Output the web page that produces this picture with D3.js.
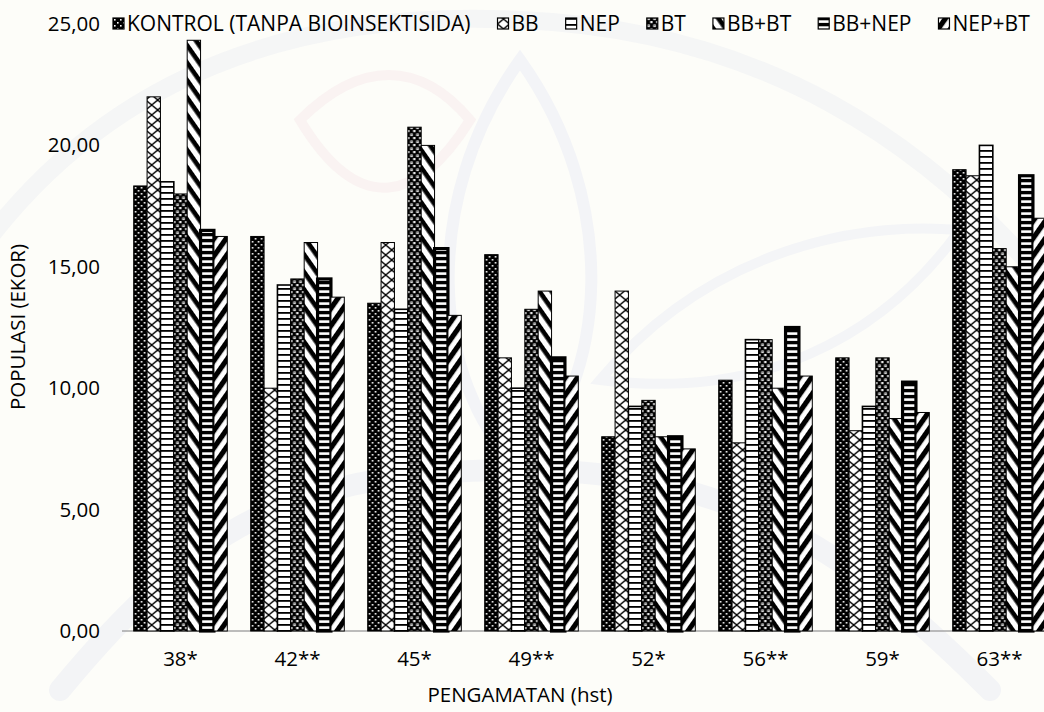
<!DOCTYPE html>
<html>
<head>
<meta charset="utf-8">
<script src="https://cdn.jsdelivr.net/npm/d3@7/dist/d3.min.js"></script>
<style>
  html, body { margin: 0; padding: 0; background: #fdfdf9; }
  svg { display: block; }
  text { font-family: "Open Sans", "Noto Sans", sans-serif; fill: #000; }
</style>
</head>
<body>
<svg id="chart" width="1044" height="712"></svg>
<script>
// Observation days (hari setelah tanam)
const categories = ["38*", "42**", "45*", "49**", "52*", "56**", "59*", "63**"];

// Treatments, in legend order
const seriesNames = ["KONTROL (TANPA BIOINSEKTISIDA)", "BB", "NEP", "BT", "BB+BT", "BB+NEP", "NEP+BT"];

// Pest population (ekor) per treatment, one value per observation day
const kontrol = [18.33, 16.25, 13.5, 15.5, 8.0, 10.33, 11.25, 19.0];
const bb      = [22.0, 10.0, 16.0, 11.25, 14.0, 7.75, 8.25, 18.75];
const nep     = [18.5, 14.25, 13.25, 10.0, 9.25, 12.0, 9.25, 20.0];
const bt      = [18.0, 14.5, 20.75, 13.25, 9.5, 12.0, 11.25, 15.75];
const bbBt    = [24.33, 16.0, 20.0, 14.0, 8.0, 10.0, 8.75, 15.0];
const bbNep   = [16.5, 14.5, 15.75, 11.25, 8.0, 12.5, 10.25, 18.75];
const nepBt   = [16.25, 13.75, 13.0, 10.5, 7.5, 10.5, 9.0, 17.0];

const seriesValues = [kontrol, bb, nep, bt, bbBt, bbNep, nepBt];

// Y axis ticks
const yTicks = [0, 5, 10, 15, 20, 25];

const svg = d3.select("#chart");
const W = 1044, H = 712;

// ---- very faint background emblem ----
const bg = svg.append("g").attr("fill", "none").attr("stroke-linecap", "round");
bg.append("path").attr("d", "M60,690 C200,520 300,470 520,470 C740,470 860,560 990,690")
  .attr("stroke", "#f3f4f6").attr("stroke-width", 22);
bg.append("path").attr("d", "M-20,250 C120,60 320,10 520,20 C760,30 930,140 1060,300")
  .attr("stroke", "#f5f6f6").attr("stroke-width", 18);
bg.append("path").attr("d", "M520,470 C430,380 420,200 520,60 C620,200 610,380 520,470 Z")
  .attr("stroke", "#f3f4f7").attr("stroke-width", 12);
bg.append("path").attr("d", "M300,120 C360,60 420,60 470,120 C420,200 360,220 300,120 Z")
  .attr("stroke", "#faf3f2").attr("stroke-width", 10);
bg.append("path").attr("d", "M600,380 C700,260 840,220 960,230 C880,340 760,400 600,380 Z")
  .attr("stroke", "#f4f5f7").attr("stroke-width", 10);

// ---- fill patterns for each treatment ----
const defs = svg.append("defs");

function pat(id, w, h, transform) {
  const p = defs.append("pattern").attr("id", id)
    .attr("patternUnits", "userSpaceOnUse").attr("width", w).attr("height", h);
  if (transform) p.attr("patternTransform", transform);
  return p;
}

// KONTROL: black with small white dots
{
  const p = pat("p0", 6, 6);
  p.append("rect").attr("width", 6).attr("height", 6).attr("fill", "#000");
  p.append("rect").attr("x", 1).attr("y", 1).attr("width", 1.6).attr("height", 1.6).attr("fill", "#fff");
  p.append("rect").attr("x", 4).attr("y", 4).attr("width", 1.6).attr("height", 1.6).attr("fill", "#fff");
}
// BB: white with zigzag lattice
{
  const p = pat("p1", 12, 10);
  p.append("rect").attr("width", 12).attr("height", 10).attr("fill", "#fff");
  p.append("path").attr("d", "M0,0 L6,5 L0,10 M12,0 L6,5 L12,10")
    .attr("stroke", "#000").attr("stroke-width", 1.4).attr("fill", "none");
}
// NEP: white with horizontal lines
{
  const p = pat("p2", 6, 6);
  p.append("rect").attr("width", 6).attr("height", 6).attr("fill", "#fff");
  p.append("rect").attr("y", 0).attr("width", 6).attr("height", 1.8).attr("fill", "#000");
}
// BT: black with small white open squares
{
  const p = pat("p3", 6, 7);
  p.append("rect").attr("width", 6).attr("height", 7).attr("fill", "#000");
  p.append("rect").attr("x", 0.5).attr("y", 0.5).attr("width", 2.6).attr("height", 2.6).attr("fill", "#fff");
  p.append("rect").attr("x", 1.3).attr("y", 1.3).attr("width", 1).attr("height", 1).attr("fill", "#000");
  p.append("rect").attr("x", 3.5).attr("y", 4).attr("width", 2.2).attr("height", 2.2).attr("fill", "#fff");
}
// BB+BT: wide descending diagonal stripes
{
  const p = pat("p4", 10, 10, "rotate(55)");
  p.append("rect").attr("width", 10).attr("height", 10).attr("fill", "#fff");
  p.append("rect").attr("width", 10).attr("height", 4.6).attr("fill", "#000");
}
// BB+NEP: black with white horizontal bars
{
  const p = pat("p5", 6, 6);
  p.append("rect").attr("width", 6).attr("height", 6).attr("fill", "#000");
  p.append("rect").attr("y", 2.3).attr("width", 6).attr("height", 2.6).attr("fill", "#fff");
}
// NEP+BT: wide ascending diagonal stripes
{
  const p = pat("p6", 10, 10, "rotate(-55)");
  p.append("rect").attr("width", 10).attr("height", 10).attr("fill", "#fff");
  p.append("rect").attr("width", 10).attr("height", 5.2).attr("fill", "#000");
}

const fills = seriesNames.map((d, i) => `url(#p${i})`);
const strokeW = [1, 1, 1.6, 1, 1, 3.2, 1];

// ---- scales ----
const x0 = d3.scaleBand().domain(categories).range([122, 1058])
  .paddingInner(0.2).paddingOuter(0.1);
const x1 = d3.scaleBand().domain(d3.range(seriesNames.length)).range([0, x0.bandwidth()]);
const y = d3.scaleLinear().domain([0, 25]).range([631, 24]);

// ---- baseline ----
svg.append("line").attr("x1", 122).attr("x2", W).attr("y1", y(0)).attr("y2", y(0))
  .attr("stroke", "#a6a6a6").attr("stroke-width", 1.5);

// ---- bars ----
const groups = svg.append("g").selectAll("g").data(categories).join("g")
  .attr("transform", d => `translate(${x0(d)},0)`);

groups.selectAll("rect")
  .data((c, ci) => seriesValues.map((vals, si) => ({ si, v: vals[ci] })))
  .join("rect")
  .attr("x", d => x1(d.si))
  .attr("y", d => y(d.v))
  .attr("width", x1.bandwidth())
  .attr("height", d => y(0) - y(d.v))
  .attr("fill", d => fills[d.si])
  .attr("stroke", "#000")
  .attr("stroke-width", d => strokeW[d.si]);

// ---- y axis (labels only) ----
const yAxis = d3.axisLeft(y).tickValues(yTicks)
  .tickFormat(d => d3.format(".2f")(d).replace(".", ","))
  .tickSize(0).tickPadding(0);
const ya = svg.append("g").attr("transform", "translate(100,0)").call(yAxis);
ya.select(".domain").remove();
ya.selectAll("text").attr("font-size", 20.5).attr("font-family", "'Open Sans', sans-serif").attr("fill", "#000");

// ---- x axis (labels only) ----
const xAxis = d3.axisBottom(x0).tickSize(0).tickPadding(0);
const xa = svg.append("g").attr("transform", `translate(0,${y(0) + 20})`).call(xAxis);
xa.select(".domain").remove();
xa.selectAll("text").attr("font-size", 20.5).attr("font-family", "'Open Sans', sans-serif").attr("fill", "#000");

// ---- axis titles ----
svg.append("text").attr("x", 520).attr("y", 702).attr("text-anchor", "middle")
  .attr("font-size", 20.5).text("PENGAMATAN (hst)");
svg.append("text").attr("transform", "translate(25,327) rotate(-90)")
  .attr("text-anchor", "middle").attr("font-size", 20.5).text("POPULASI (EKOR)");

// ---- legend ----
const legend = svg.append("g").attr("transform", "translate(113,24)");
let lx = 0;
seriesNames.forEach((name, i) => {
  const g = legend.append("g").attr("transform", `translate(${lx},0)`);
  g.append("rect").attr("x", 0).attr("y", -6).attr("width", 11).attr("height", 11)
    .attr("fill", fills[i]).attr("stroke", "#000").attr("stroke-width", 1.2);
  const t = g.append("text").attr("x", 14).attr("y", 0).attr("dy", "0.35em")
    .attr("font-size", 21).text(name);
  lx += 14 + t.node().getComputedTextLength() + 27;
});
</script>
</body>
</html>
